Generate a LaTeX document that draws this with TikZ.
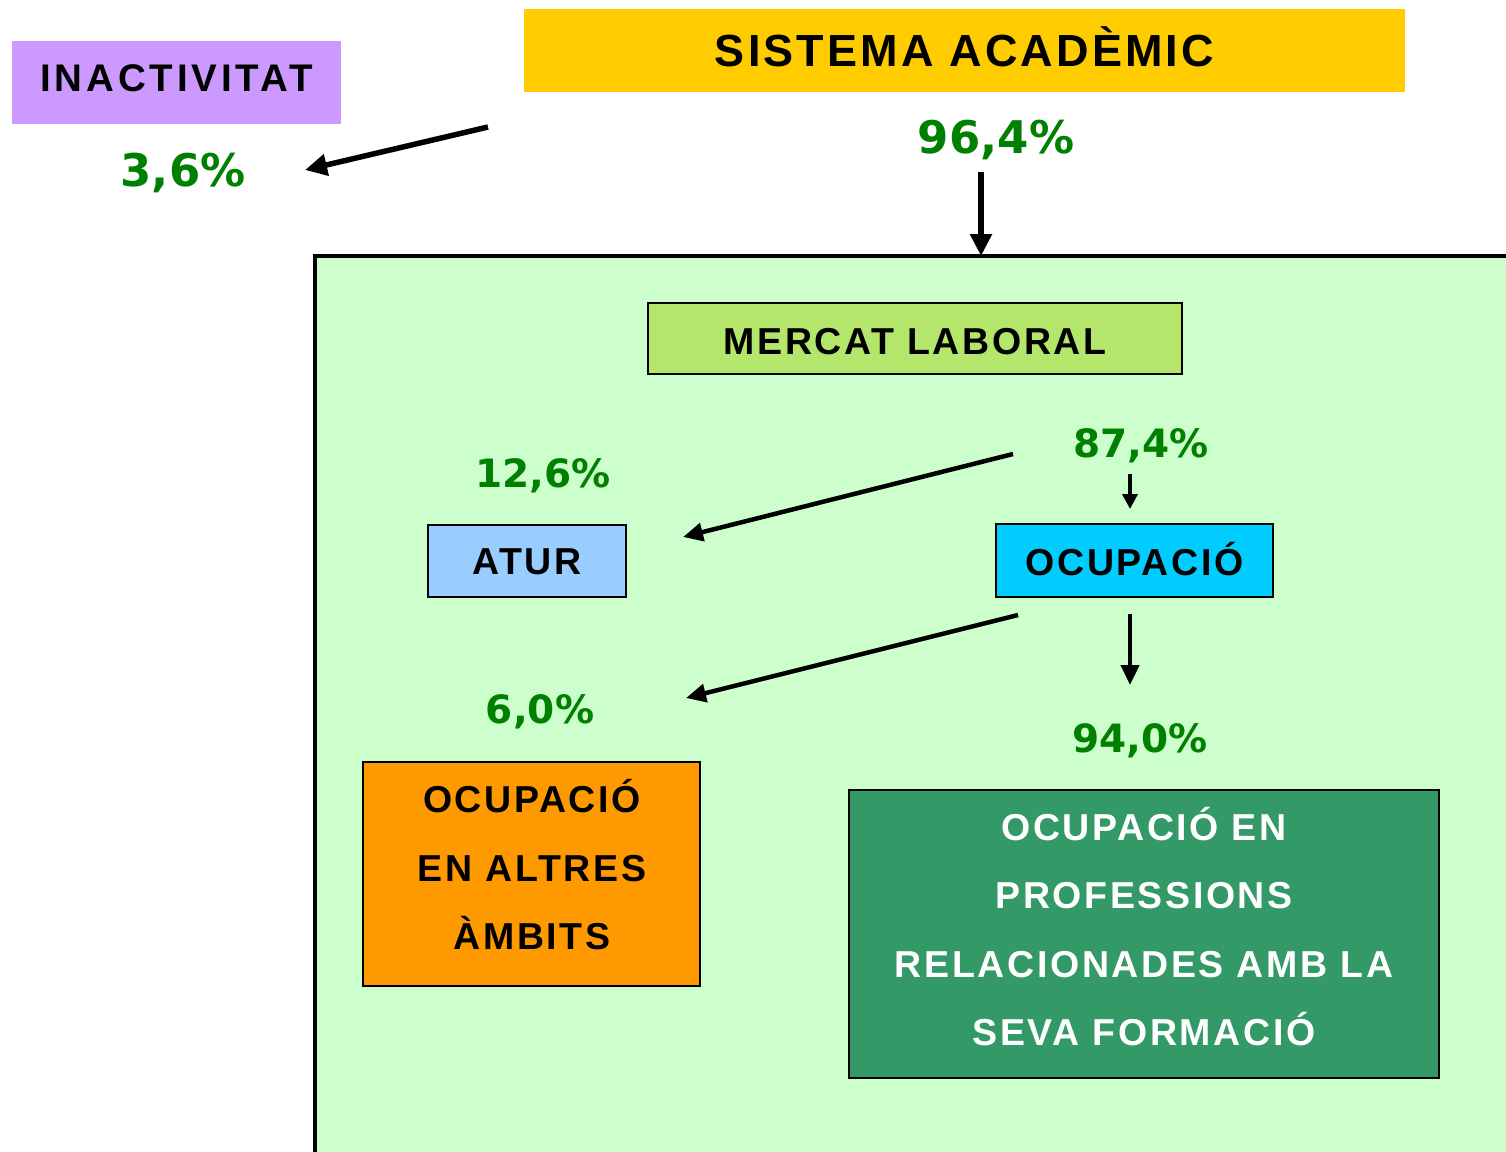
\documentclass[tikz,border=0pt]{standalone}
\usepackage{fontspec}
\setmainfont{Liberation Sans}
\newfontfamily\labfont[LetterSpace=7]{Liberation Sans}
\newfontfamily\widelabfont[LetterSpace=10]{Liberation Sans}
\newfontfamily\pctfont{DejaVu Sans}
\usetikzlibrary{arrows.meta}
\definecolor{inactc}{HTML}{CC99FF}
\definecolor{sistc}{HTML}{FFCC00}
\definecolor{mktc}{HTML}{CCFFCC}
\definecolor{mercc}{HTML}{B4E66C}
\definecolor{aturc}{HTML}{99CCFF}
\definecolor{ocupc}{HTML}{00CCFF}
\definecolor{altc}{HTML}{FF9900}
\definecolor{relc}{HTML}{339966}
\definecolor{pctc}{HTML}{008000}
\tikzset{
  boxlab/.style={draw=black, line width=2.5pt, inner sep=0pt, outer sep=0pt,
    anchor=north west, font=\labfont\bfseries\fontsize{37.5}{45}\selectfont,
    text height=27pt, text depth=0pt},
  plainbox/.style={draw=black, line width=2.5pt, inner sep=0pt, outer sep=0pt, anchor=north west},
  linetext/.style={anchor=base, inner sep=0pt, outer sep=0pt,
    font=\labfont\bfseries\fontsize{37.5}{45}\selectfont},
  pct/.style={anchor=base, inner sep=0pt, outer sep=0pt, text=pctc,
    font=\pctfont\bfseries\fontsize{39}{45}\selectfont},
  pctbig/.style={pct, font=\pctfont\bfseries\fontsize{45}{50}\selectfont},
  arrbig/.style={line width=5.5pt, -{Triangle[length=22pt,width=21pt]}},
  arrmid/.style={line width=4.5pt, -{Triangle[length=20pt,width=18pt]}},
  arrsmall/.style={line width=4pt, -{Triangle[length=15pt,width=15pt]}},
}
\begin{document}
\begin{tikzpicture}[x=1pt,y=-1pt]
\useasboundingbox (0,0) rectangle (1506,1151);
\clip (0,0) rectangle (1506,1151);
\fill[white] (0,0) rectangle (1506,1151);

% large market area
\node[plainbox, line width=3.5pt, fill=mktc, minimum width=1230pt, minimum height=940pt] (mkt) at (315,256) {};

% top boxes
\node[boxlab, draw=none, fill=inactc, minimum width=329pt, minimum height=83pt,
  font=\widelabfont\bfseries\fontsize{38.5}{45}\selectfont, text depth=9pt] (inact) at (12,41) {INACTIVITAT};
\node[boxlab, draw=none, fill=sistc, minimum width=881pt, minimum height=83pt,
  font=\labfont\bfseries\fontsize{45}{50}\selectfont, text height=32pt] (sist) at (524,9) {SISTEMA ACADÈMIC};

% inner boxes
\node[boxlab, fill=mercc, minimum width=534pt, minimum height=71pt, text height=32pt] (merc) at (648,303) {MERCAT LABORAL};
\node[boxlab, fill=aturc, minimum width=198pt, minimum height=72pt] (atur) at (428,525) {ATUR};
\node[boxlab, fill=ocupc, minimum width=277pt, minimum height=73pt, text height=29pt] (ocup) at (996,524) {OCUPACIÓ};
\node[plainbox, fill=altc, minimum width=337pt, minimum height=224pt] (alt) at (363,762) {};
\node[plainbox, fill=relc, minimum width=590pt, minimum height=288pt] (rel) at (849,790) {};

% multi-line texts
\node[linetext] (alt1) at (532,812) {OCUPACIÓ};
\node[linetext] (alt2) at (532,881) {EN ALTRES};
\node[linetext] (alt3) at (532,949) {ÀMBITS};
\node[linetext, text=white] (rel1) at (1144,840) {OCUPACIÓ EN};
\node[linetext, text=white] (rel2) at (1144,908) {PROFESSIONS};
\node[linetext, text=white] (rel3) at (1144,977) {RELACIONADES AMB LA};
\node[linetext, text=white] (rel4) at (1144,1045) {SEVA FORMACIÓ};

% percentages
\node[pctbig] (p36) at (183,186) {3,6\%};
\node[pctbig] (p964) at (996,153) {96,4\%};
\node[pct] (p874) at (1141,457) {87,4\%};
\node[pct] (p126) at (543,487) {12,6\%};
\node[pct] (p60) at (540,723) {6,0\%};
\node[pct] (p940) at (1140,752) {94,0\%};

% arrow end points
\coordinate (a1s) at (488,127);
\coordinate (a1e) at (305,170);
\coordinate (a2s) at (981,172);
\coordinate (a3s) at (1013,454);
\coordinate (a3e) at (683,537);
\coordinate (a4s) at (1130,474);
\coordinate (a4e) at (1130,509);
\coordinate (a5s) at (1018,615);
\coordinate (a5e) at (686,698);
\coordinate (a6s) at (1130,614);
\coordinate (a6e) at (1130,685);

\draw[arrbig] (a1s) -- (a1e);
\draw[arrbig] (a2s) -- (a2s |- mkt.north);
\draw[arrmid] (a3s) -- (a3e);
\draw[arrsmall] (a4s) -- (a4e);
\draw[arrmid] (a5s) -- (a5e);
\draw[arrmid] (a6s) -- (a6e);
\end{tikzpicture}
\end{document}
